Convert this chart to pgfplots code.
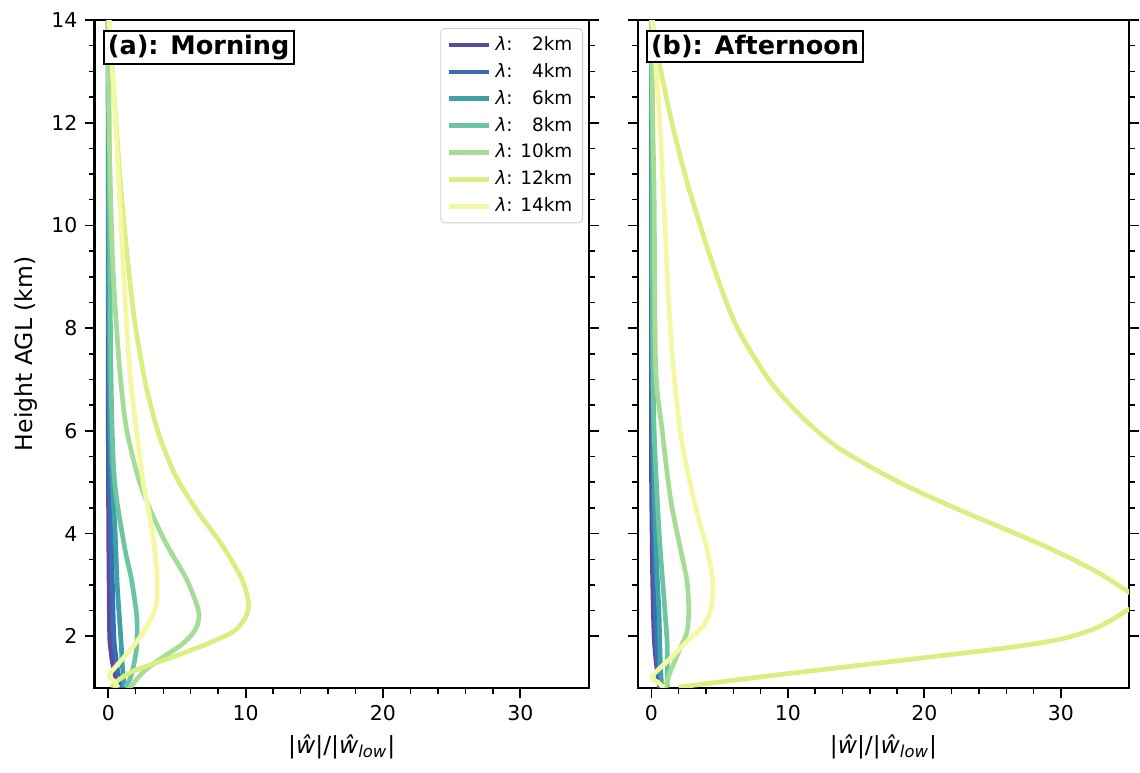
\documentclass[border=0pt]{standalone}
\usepackage{pgfplots}
\pgfplotsset{compat=1.18}
\usepackage{fontspec}
\setmainfont{DejaVu Sans}

\definecolor{c2}{HTML}{5B4B9F}
\definecolor{c4}{HTML}{3A6EB4}
\definecolor{c6}{HTML}{3EA0A8}
\definecolor{c8}{HTML}{6CC5A0}
\definecolor{c10}{HTML}{A5DC96}
\definecolor{c12}{HTML}{DAEE82}
\definecolor{c14}{HTML}{F4F8A2}

\pgfplotsset{
  panel/.style={
    scale only axis,
    height=326.8pt,
    xmin=-1, xmax=35, ymin=1, ymax=14,
    xtick={0,10,20,30}, ytick={2,4,6,8,10,12,14},
    minor x tick num=4, minor y tick num=3,
    xtick pos=lower, ytick pos=both,
    tick align=outside,
    major tick length=4.9pt, minor tick length=2.9pt,
    every tick/.style={black, line width=0.9pt},
    every minor tick/.style={black, line width=0.7pt},
    axis line style={line width=1.1pt},
    /pgf/number format/assume math mode=true,
    tick label style={font=\fontsize{10}{12}\selectfont},
    label style={font=\fontsize{11.5}{13}\selectfont},
    xlabel={|\textit{ŵ}|/|\textit{ŵ}\textsubscript{\textit{low}}|},
  },
  cv/.style={#1, line width=2.3pt, smooth},
}
\tikzset{
  lab/.style={draw=black, line width=1pt, fill=white, anchor=north west,
    inner sep=2pt, font=\bfseries\fontsize{12.5}{14}\selectfont},
}

\begin{document}
\begin{tikzpicture}
% fixes the page to the reference's margins
\path (-46.3pt,-41.5pt) rectangle (509.8pt,336.6pt);

% (a) Morning
\begin{axis}[
  panel, name=A,
  width=242pt,
  ylabel={Height AGL (km)},
  yticklabel pos=left,
  legend style={at={(0.988,0.988)}, anchor=north east, draw=black!20,
    rounded corners=2pt, fill=white, row sep=0.8pt,
    font=\fontsize{9}{10.5}\selectfont, inner xsep=3pt, inner ysep=2pt},
  legend cell align=left,
  legend image code/.code={\draw[#1] (0pt,0pt) -- (19.5pt,0pt);},
]
\addplot[cv=c2] coordinates {(0,14) (0,8) (0,6) (0.03,4) (0.06,3) (0.1,2) (0.2,1.7) (0.3,1.5) (0.5,1.25) (0.7,1.0)};
\addlegendentry{\textit{λ}: \phantom{1}2km}
\addplot[cv=c4] coordinates {(0,14) (0.01,10) (0.05,6) (0.1,5) (0.2,4) (0.3,3) (0.4,2) (0.55,1.6) (0.7,1.3) (0.95,1.0)};
\addlegendentry{\textit{λ}: \phantom{1}4km}
\addplot[cv=c6] coordinates {(0,14) (0.02,10) (0.05,8) (0.15,6) (0.3,5) (0.5,4) (0.65,3) (0.85,2.2) (0.95,1.8) (1.0,1.5) (1.1,1.2) (1.15,1.0)};
\addlegendentry{\textit{λ}: \phantom{1}6km}
\addplot[cv=c8] coordinates {(0,14) (0.05,12) (0.1,10) (0.2,7) (0.44,5.07) (1.16,3.77) (1.67,3.13) (2.03,2.49) (2.1,2.16) (2.03,1.71) (1.67,1.24) (1.31,1.03) (1.25,1.0)};
\addlegendentry{\textit{λ}: \phantom{1}8km}
\addplot[cv=c10] coordinates {(0,14) (0.05,12) (0.29,9.48) (0.6,8) (0.94,6.87) (1.35,6.0) (2.2,5.07) (3.1,4.43) (4.28,3.77) (5.66,3.13) (6.46,2.6) (6.6,2.35) (6.25,2.09) (5.3,1.83) (3.85,1.57) (2.6,1.32) (1.67,1.03) (1.6,1.0)};
\addlegendentry{\textit{λ}: 10km}
\addplot[cv=c12] coordinates {(0.07,14) (0.3,13) (0.55,12.06) (0.9,10.76) (1.35,9.48) (1.9,8.17) (2.75,6.87) (3.6,6.0) (4.15,5.59) (5.0,5.07) (6.5,4.43) (8.3,3.77) (9.7,3.13) (10.15,2.75) (10.2,2.55) (9.95,2.35) (9.1,2.09) (7.0,1.83) (4.4,1.57) (1.8,1.32) (0.5,1.1) (0.3,1.0)};
\addlegendentry{\textit{λ}: 12km}
\addplot[cv=c14] coordinates {(0.07,14) (0.3,13) (0.52,12.06) (0.78,10.76) (1.03,9.5) (1.31,8.17) (1.67,6.87) (2.5,5.07) (2.95,4.43) (3.34,3.77) (3.56,3.13) (3.49,2.6) (2.83,2.21) (1.89,1.83) (0.65,1.44) (0.05,1.24) (0.5,1.1) (0.7,1.0)};
\addlegendentry{\textit{λ}: 14km}
\node[lab, xshift=4pt, yshift=-5pt] at (rel axis cs:0,1) {(a): Morning};
\end{axis}

% (b) Afternoon
\begin{axis}[
  panel,
  at={(265.9pt,0pt)},
  width=240.5pt,
  yticklabels={},
]
\addplot[cv=c2] coordinates {(0,14) (0,6) (0.05,4) (0.1,3) (0.2,2) (0.35,1.5) (0.5,1.2) (0.65,1.0)};
\addplot[cv=c4] coordinates {(0,14) (0.02,8) (0.1,5) (0.25,3) (0.35,2) (0.45,1.5) (0.6,1.0)};
\addplot[cv=c6] coordinates {(0,14) (0.02,10) (0.05,8) (0.2,5) (0.3,4) (0.45,3) (0.55,2.5) (0.6,2) (0.65,1.5) (0.75,1.0)};
\addplot[cv=c8] coordinates {(0,14) (0.05,12) (0.1,8) (0.2,6) (0.56,4.04) (0.92,2.74) (1.1,2.1) (1.16,1.77) (1.16,1.0)};
\addplot[cv=c10] coordinates {(0,14) (0.1,12) (0.2,10.5) (0.31,7.27) (0.8,5.98) (1.4,4.68) (2.12,3.71) (2.61,3.07) (2.73,2.5) (2.61,2.09) (2.12,1.77) (1.4,1.32) (1.04,1.03) (1.0,1.0)};
\addplot[cv=c12] coordinates {(0.07,14) (0.43,13.36) (1.45,12.06) (2.7,10.76) (4.54,9.21) (6.23,8.04) (8.65,6.98) (11.07,6.26) (13.48,5.71) (15.9,5.32) (18.3,4.98) (20.7,4.68) (23.1,4.40) (25.6,4.12) (28.0,3.85) (30.4,3.56) (32.8,3.23) (34.4,2.96) (35.2,2.82) (35.6,2.7) (35.3,2.57) (34.7,2.48) (33.6,2.3) (32.4,2.14) (30.4,1.97) (28.0,1.85) (25.0,1.74) (23.1,1.68) (18.3,1.53) (13.48,1.38) (8.65,1.23) (3.82,1.07) (2.37,1.02) (2.0,1.0)};
\addplot[cv=c14] coordinates {(0.07,14) (0.35,13) (0.6,12.06) (0.9,10.5) (1.4,7.92) (2.12,5.98) (3.09,4.68) (4.06,3.71) (4.49,3.07) (4.42,2.6) (3.82,2.21) (2.61,1.9) (1.4,1.57) (0.05,1.22) (0.5,1.1) (0.92,1.0)};
\node[lab, xshift=4pt, yshift=-5pt] at (rel axis cs:0,1) {(b): Afternoon};
\end{axis}
\end{tikzpicture}
\end{document}
